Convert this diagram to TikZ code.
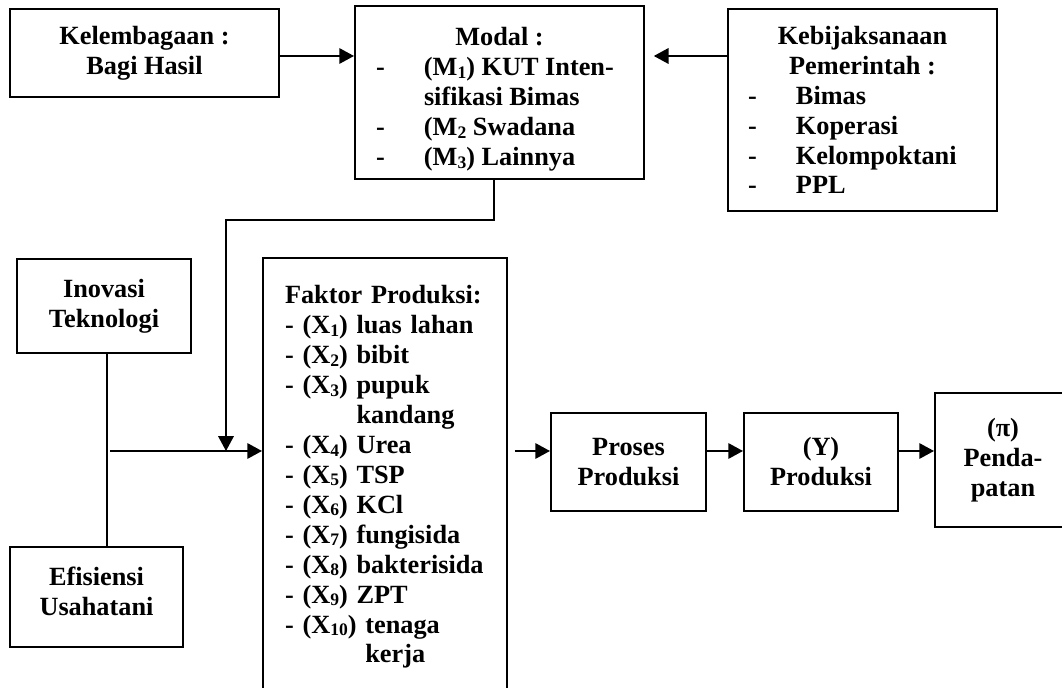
\documentclass[tikz,border=0pt]{standalone}
\usepackage{fontspec}
\setmainfont{Liberation Serif}
\usetikzlibrary{arrows.meta,calc}
\newcommand{\butir}[3][6.175cm]{\makebox[#1][l]{\makebox[1.2cm][l]{#2}#3}}
\newcommand{\bawah}[1]{\raisebox{-0.1em}{\fontsize{12.5}{12.5}\selectfont#1}}
\tikzset{
    kotak/.style={draw,line width=1.4pt,align=center,inner sep=0pt,font=\bfseries\fontsize{18.7}{21.3}\selectfont},
    panah/.style={line width=1.4pt,-{Triangle[length=10.5pt,width=11pt]}},
    garis/.style={line width=1pt}
}

\begin{document}
\begin{tikzpicture}
    \clip (0,0) rectangle (26.55,17.2);
    \coordinate (atas) at (0,15.8);
    \coordinate (simpul) at (2.675,5.925);
    \coordinate (mulai) at (2.75,5.925);
    \coordinate (belok) at (5.65,11.7);
    \node[kotak,minimum width=6.725cm,minimum height=2.2cm] (kel) at (3.6125,15.875) {Kelembagaan :\\Bagi Hasil};
    \node[kotak,minimum width=7.225cm,minimum height=4.325cm] (modal) at (12.4875,14.8875) {\rule{0pt}{0.8cm}Modal :\\\butir{-}{(M\bawah{1}) KUT Inten-}\\\butir{}{sifikasi Bimas}\\\butir{-}{(M\bawah{2} Swadana}\\\butir{-}{(M\bawah{3}) Lainnya}};
    \node[kotak,minimum width=6.725cm,minimum height=5.05cm] (keb) at (21.5625,14.45) {Kebijaksanaan\\Pemerintah :\\\butir[5.725cm]{-}{Bimas}\\\butir[5.725cm]{-}{Koperasi}\\\butir[5.725cm]{-}{Kelompoktani}\\\butir[5.725cm]{-}{PPL}};
    \node[kotak,minimum width=4.35cm,minimum height=2.35cm] (inovasi) at (2.6,9.55) {Inovasi\\Teknologi};
    \node[kotak,minimum width=4.325cm,minimum height=2.5cm] (efisiensi) at (2.4125,2.275) {Efisiensi\\Usahatani\rule[-0.3cm]{0pt}{0pt}};
    \node[kotak,align=left,text width=5cm,minimum width=6.1cm,minimum height=10.95cm] (faktor) at (9.625,5.275) {Faktor Produksi:\\- (X\bawah{1}) luas lahan\\- (X\bawah{2}) bibit\\- (X\bawah{3}) pupuk\\\phantom{- (X\bawah{3}) }kandang\\- (X\bawah{4}) Urea\\- (X\bawah{5}) TSP\\- (X\bawah{6}) KCl\\- (X\bawah{7}) fungisida\\- (X\bawah{8}) bakterisida\\- (X\bawah{9}) ZPT\\- (X\bawah{10}) tenaga\\\phantom{- (X\bawah{10}) }kerja};
    \node[kotak,minimum width=3.875cm,minimum height=2.45cm] (proses) at (15.7125,5.65) {Proses\\Produksi};
    \node[kotak,minimum width=3.85cm,minimum height=2.45cm] (produksi) at (20.525,5.65) {(Y)\\Produksi};
    \node[kotak,minimum width=3.4cm,minimum height=3.35cm] (pendapatan) at (25.075,5.7) {(π)\\Penda-\\patan};
    \draw[panah] (kel.east |- atas) -- (modal.west |- atas);
    \draw[panah,shorten >=0.22cm] (keb.west |- atas) -- (modal.east |- atas);
    \draw[garis,-{Triangle[length=10.5pt,width=11pt]}] ([xshift=-1.4mm]modal.south) |- (belok) -- (belok |- mulai);
    \draw[garis] (simpul |- inovasi.south) -- (simpul |- efisiensi.north);
    \draw[panah] (mulai) -- (mulai -| faktor.west);
    \draw[panah,shorten <=0.175cm] (faktor.east |- mulai) -- (proses.west |- mulai);
    \draw[panah] (proses.east |- mulai) -- (produksi.west |- mulai);
    \draw[panah] (produksi.east |- mulai) -- (pendapatan.west |- mulai);
\end{tikzpicture}
\end{document}
